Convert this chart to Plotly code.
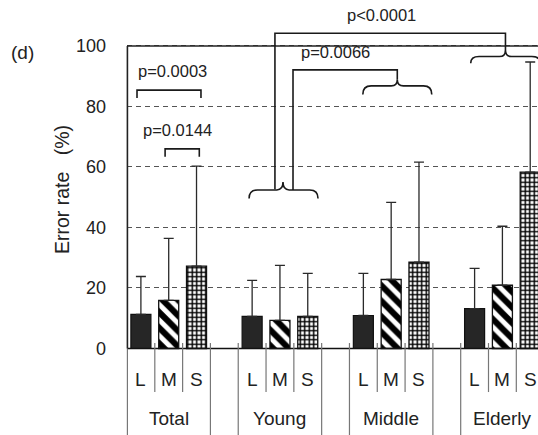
import plotly.graph_objects as go

# ---- data ----
groups = ["Total", "Young", "Middle", "Elderly"]
sizes = ["L", "M", "S"]
L_mean = [11.3, 10.6, 10.9, 13.2]
L_sd = [12.5, 11.9, 13.9, 13.3]
M_mean = [15.9, 9.3, 22.8, 20.9]
M_sd = [20.5, 18.2, 25.5, 19.5]
S_mean = [27.2, 10.6, 28.5, 58.3]
S_sd = [33.1, 14.2, 33.1, 36.4]
y_ticks = [0, 20, 40, 60, 80, 100]
p_labels = ["p=0.0003", "p=0.0144", "p=0.0066", "p<0.0001"]

FONT = "Liberation Sans, Arial, sans-serif"
TXT = "#222"
W, H = 538, 435
ML = 127
X0, X1 = -0.5, 14.28
Y0, Y1 = -28.6, 115.2

def pos(gi, si):
    return gi * 4 + si

fig = go.Figure()
series = [(L_mean, L_sd, dict(color="#262626", line=dict(color="#111", width=1.2))),
          (M_mean, M_sd, dict(color="white", line=dict(color="#111", width=1.3),
                              pattern=dict(shape="\\", size=11, solidity=0.55,
                                           fgcolor="#000", bgcolor="white", fgopacity=1))),
          (S_mean, S_sd, dict(color="white", line=dict(color="#111", width=1.3),
                              pattern=dict(shape="+", size=4.5, solidity=0.55,
                                           fgcolor="#000", bgcolor="white", fgopacity=1)))]
for si, (mean, sd, mk) in enumerate(series):
    fig.add_trace(go.Bar(
        x=[pos(g, si) for g in range(len(groups))], y=mean, width=0.72,
        marker=mk,
        error_y=dict(type="data", array=sd, arrayminus=[0] * len(sd), symmetric=False,
                     color="#2a2a2a", thickness=1.3, width=5),
        showlegend=False, cliponaxis=True))

shapes = []
line_dark = dict(color="#1a1a1a", width=1.6)
# top border and zero line
shapes.append(dict(type="line", xref="x", yref="y", x0=X0, x1=X1 + 1, y0=100, y1=100, line=dict(color="#222", width=1.3), layer="above"))
shapes.append(dict(type="line", xref="x", yref="y", x0=X0, x1=X1 + 1, y0=0, y1=0, line=dict(color="#111", width=1.6), layer="above"))
# left axis line
shapes.append(dict(type="line", xref="paper", yref="y", x0=0.001, x1=0.001, y0=0, y1=100, line=dict(color="#222", width=1.6), layer="above"))

# separators below axis
sep_col = "#777"
for g in range(len(groups)):
    left = g * 4 - 0.5
    right = g * 4 + 2.5
    for xx in (left, right):
        if xx <= X0 + 0.01:
            shapes.append(dict(type="line", xref="paper", yref="y", x0=0.001, x1=0.001, y0=0, y1=Y0, line=dict(color=sep_col, width=1.2)))
        else:
            shapes.append(dict(type="line", xref="x", yref="y", x0=xx, x1=xx, y0=1.8, y1=Y0, line=dict(color=sep_col, width=1.2)))
    for k in (0.5, 1.5):
        xx = g * 4 + k
        shapes.append(dict(type="line", xref="x", yref="y", x0=xx, x1=xx, y0=1.8, y1=-14.4, line=dict(color=sep_col, width=1.2)))

# square brackets (Total)
def sq(x0, x1, ytop, yleg):
    return dict(type="path", xref="x", yref="y",
                path=f"M {x0},{yleg} L {x0},{ytop} L {x1},{ytop} L {x1},{yleg}",
                line=line_dark, layer="above")
shapes.append(sq(-0.14, 2.16, 85.4, 82.8))
shapes.append(sq(0.87, 2.10, 66.0, 63.4))

# curly braces
def brace(xa, xb, xc, ya, ye, yc, dx=0.3, dxc=0.22):
    p = (f"M {xa},{ye} Q {xa},{ya} {xa+dx},{ya} L {xc-dxc},{ya} "
         f"Q {xc},{ya} {xc},{yc} Q {xc},{ya} {xc+dxc},{ya} "
         f"L {xb-dx},{ya} Q {xb},{ya} {xb},{ye}")
    return dict(type="path", xref="x", yref="y", path=p, line=line_dark, layer="above")
shapes.append(brace(3.89, 6.37, 5.11, 52.4, 49.6, 55.0))
shapes.append(brace(7.98, 10.46, 9.22, 86.8, 84.0, 88.8))
shapes.append(brace(11.86, 14.36, 13.11, 96.5, 94.3, 98.7))

# connecting brackets
shapes.append(dict(type="path", xref="x", yref="y",
                   path="M 5.47,52.4 L 5.47,92.1 L 9.22,92.1 L 9.22,88.8", line=line_dark, layer="above"))
shapes.append(dict(type="path", xref="x", yref="y",
                   path="M 4.82,52.6 L 4.82,104.2 L 13.11,104.2 L 13.11,98.7", line=line_dark, layer="above"))

annotations = []
def txt(x, y, s, size, xref="x", yref="y", angle=0):
    annotations.append(dict(x=x, y=y, xref=xref, yref=yref, text=s, showarrow=False,
                            font=dict(family=FONT, size=size, color=TXT), textangle=angle,
                            xanchor="center", yanchor="middle"))

txt(1.15, 91.8, p_labels[0], 16.5)
txt(1.32, 72.2, p_labels[1], 16.5)
txt(7.01, 98.1, p_labels[2], 16.5)
txt(8.64, 110.2, p_labels[3], 16.5)

for g, gname in enumerate(groups):
    for si, s in enumerate(sizes):
        txt(pos(g, si), -10.4, s, 19)
    txt(g * 4 + 1, -23.0, gname, 19)

txt((62 - ML) / (W - ML), 52.4, "Error rate\u00a0\u00a0\u00a0(%)", 19.5, xref="paper", angle=-90)
txt((23 - ML) / (W - ML), 97.7, "(d)", 19, xref="paper")

fig.update_layout(
    width=W, height=H, margin=dict(l=ML, r=0, t=0, b=0),
    paper_bgcolor="white", plot_bgcolor="white", barmode="overlay",
    shapes=shapes, annotations=annotations,
    font=dict(family=FONT, color=TXT),
    xaxis=dict(range=[X0, X1], showgrid=False, zeroline=False, showline=False,
               showticklabels=False, ticks=""),
    yaxis=dict(range=[Y0, Y1], tickvals=y_ticks, ticktext=[str(v) for v in y_ticks],
               showgrid=True, gridcolor="#555", gridwidth=1, griddash="5px,4px",
               zeroline=False, showline=False, ticks="", ticklabelstandoff=20,
               tickfont=dict(family=FONT, size=18, color=TXT)),
)
fig.write_html("out.html")
